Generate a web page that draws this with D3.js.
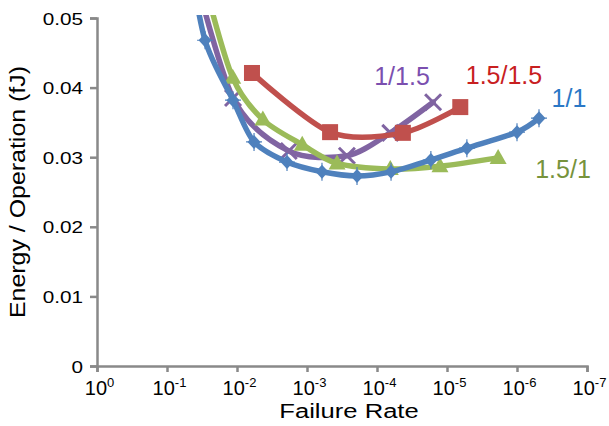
<!DOCTYPE html>
<html><head><meta charset="utf-8">
<script src="https://cdn.jsdelivr.net/npm/d3@7"></script>
<style>body{margin:0;background:#fff}svg{display:block;font-family:"Liberation Sans",Arial,sans-serif}</style>
</head><body>
<svg id="c" width="609" height="426"></svg>
<script>
// Failure rate (x) and energy per operation in fJ (y)
const blueRate = [0.05, 0.0286, 0.0114, 0.00571, 0.00193, 0.000611, 0.000193, 6.3e-5, 1.7e-5, 5.2e-6, 1.0e-6, 4.85e-7];
const blueEnergy = [0.060, 0.0468, 0.0382, 0.0322, 0.0293, 0.0279, 0.0273, 0.0279, 0.0296, 0.0313, 0.0336, 0.0356];
const purpleRate = [0.05, 0.0114, 0.00182, 0.000269, 6.46e-5, 1.58e-5];
const purpleEnergy = [0.060, 0.0385, 0.0309, 0.0302, 0.0335, 0.0379];
const greenRate = [0.0282, 0.0115, 0.00427, 0.00117, 0.000372, 6.46e-5, 1.26e-5, 1.86e-6];
const greenEnergy = [0.0545, 0.0414, 0.0354, 0.0318, 0.0291, 0.0283, 0.0287, 0.0299];
const redRate = [0.00611, 0.000468, 4.27e-5, 6.46e-6];
const redEnergy = [0.0421, 0.0336, 0.0335, 0.0372];
const seriesNames = ["1/1", "1/1.5", "1.5/1", "1.5/1.5"];
const xTickExp = [0, -1, -2, -3, -4, -5, -6, -7];
const yTicks = [0, 0.01, 0.02, 0.03, 0.04, 0.05];

const series = [
  {name: "1/1.5", rate: purpleRate, energy: purpleEnergy, color: "#8064A2", label: "#7B4FAF", marker: "x", lx: 402, ly: 85},
  {name: "1.5/1", rate: greenRate, energy: greenEnergy, color: "#9BBB59", label: "#77933C", marker: "tri", lx: 563, ly: 178},
  {name: "1/1", rate: blueRate, energy: blueEnergy, color: "#4F81BD", label: "#2A78C6", marker: "dia", lx: 569, ly: 107},
  {name: "1.5/1.5", rate: redRate, energy: redEnergy, color: "#C0504D", label: "#C8201F", marker: "sq", lx: 504, ly: 84}
];

const svg = d3.select("#c");
const L = 97, R = 587, T = 18, B = 366;
const x = d3.scaleLog().domain([1, 1e-7]).range([L, R]);
const y = d3.scaleLinear().domain([0, 0.05]).range([B, T]);
const axisColor = "#898989";
const FF = "Liberation Sans, Arial, sans-serif";

svg.append("defs").append("clipPath").attr("id", "clip")
  .append("rect").attr("x", L).attr("y", T - 3).attr("width", R - L + 20).attr("height", B - T + 3);

// Y axis
const ya = svg.append("g").attr("transform", `translate(${L},0)`)
  .call(d3.axisLeft(y).tickValues(yTicks).tickSize(7).tickFormat(""));
ya.select(".domain").attr("stroke", axisColor).attr("stroke-width", 2.5);
ya.selectAll(".tick line").attr("stroke", axisColor).attr("stroke-width", 2.5);
ya.selectAll(".tick").append("text")
  .attr("transform", "translate(-14,6) scale(1.22,1)")
  .attr("text-anchor", "end").attr("font-size", 17).attr("fill", "#000").attr("font-family", FF)
  .text(d => d === 0 ? "0" : d3.format(".2f")(d));

// X axis
const xa = svg.append("g").attr("transform", `translate(0,${B})`)
  .call(d3.axisBottom(x).tickValues(xTickExp.map(e => Math.pow(10, e))).tickSize(6).tickFormat(""));
xa.select(".domain").attr("stroke", axisColor).attr("stroke-width", 2.5);
xa.selectAll(".tick line").attr("stroke", axisColor).attr("stroke-width", 2.5);
xa.selectAll(".tick").each(function(d, i) {
  const t = d3.select(this).append("text").attr("transform", "translate(2,29)").attr("text-anchor", "middle")
    .attr("font-size", 20).attr("fill", "#000").attr("font-family", FF);
  t.append("tspan").text("10");
  t.append("tspan").attr("dy", -8).attr("font-size", 13).text(String(xTickExp[i]));
});

// Axis titles
svg.append("text").attr("transform", "translate(349,418) scale(1.22,1)").attr("text-anchor", "middle")
  .attr("font-size", 21).attr("font-family", FF).text("Failure Rate");
svg.append("text").attr("transform", "translate(25,192) rotate(-90) scale(1.16,1)").attr("text-anchor", "middle")
  .attr("font-size", 21.5).attr("font-family", FF).text("Energy / Operation (fJ)");

const plot = svg.append("g").attr("clip-path", "url(#clip)");
const line = d3.line().x(d => x(d[0])).y(d => y(d[1])).curve(d3.curveCardinal.tension(0.15));

series.forEach(s => {
  const pts = s.rate.map((r, i) => [r, s.energy[i]]);
  plot.append("path").attr("d", line(pts)).attr("fill", "none").attr("stroke", s.color)
    .attr("stroke-width", 5.5).attr("stroke-linejoin", "round").attr("stroke-linecap", "round");
  const vis = pts.filter(p => p[1] <= 0.05);
  const g = plot.append("g");
  vis.forEach(p => {
    const px = x(p[0]), py = y(p[1]);
    if (s.marker === "sq") {
      g.append("rect").attr("x", px - 8).attr("y", py - 8).attr("width", 16).attr("height", 16).attr("fill", s.color);
    } else if (s.marker === "tri") {
      g.append("path").attr("d", `M${px},${py - 9}L${px + 8.5},${py + 6}L${px - 8.5},${py + 6}Z`).attr("fill", s.color);
    } else if (s.marker === "dia") {
      g.append("path").attr("d", `M${px},${py - 7}L${px + 6.5},${py}L${px},${py + 7}L${px - 6.5},${py}Z`).attr("fill", s.color);
      g.append("path").attr("d", `M${px - 8},${py}L${px + 8},${py}M${px},${py - 9}L${px},${py + 9}`).attr("stroke", s.color).attr("stroke-width", 1.2);
    } else {
      g.append("path").attr("d", `M${px - 8},${py - 8}L${px + 8},${py + 8}M${px + 8},${py - 8}L${px - 8},${py + 8}`)
        .attr("stroke", s.color).attr("stroke-width", 3);
    }
  });
  svg.append("text").attr("x", s.lx).attr("y", s.ly).attr("text-anchor", "middle").attr("font-family", FF)
    .attr("font-size", 25).attr("fill", s.label).text(s.name);
});
</script>
</body></html>
